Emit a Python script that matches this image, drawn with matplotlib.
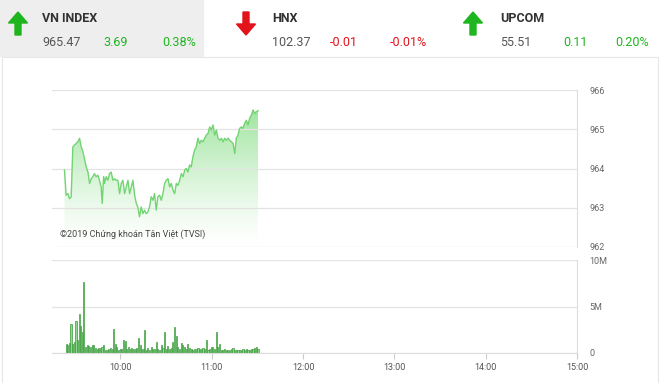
import numpy as np
import matplotlib.pyplot as plt
from matplotlib.patches import Rectangle, FancyArrow, Polygon

plt.rcParams['font.family'] = ['Roboto', 'DejaVu Sans']

# header quotes
names = ['VN INDEX', 'HNX', 'UPCOM']
last = ['965.47', '102.37', '55.51']
chg = ['3.69', '-0.01', '0.11']
pct = ['0.38%', '-0.01%', '0.20%']
up = [True, False, True]

# VN-Index intraday (minutes after 9:00)
px_min = [23.2, 24.3, 25.4, 26.5, 27.6, 28.7, 29.8, 30.9, 32.0, 33.1, 34.2, 35.3, 37.5, 38.6,
          39.7, 40.8, 41.8, 42.9, 44.0, 45.1, 46.2, 47.3, 48.0, 48.9, 49.5, 50.6, 51.7, 52.8,
          53.9, 55.0, 56.1, 57.2, 58.3, 59.4, 60.5, 61.6, 62.7, 63.8, 64.9, 66.0, 67.1, 68.2,
          69.3, 70.4, 71.4, 72.5, 73.6, 74.7, 75.8, 76.9, 78.0, 79.1, 80.2, 81.3, 82.4, 83.5,
          84.6, 85.7, 86.8, 87.9, 89.0, 90.1, 91.2, 92.3, 93.4, 94.5, 95.6, 96.7, 97.8, 98.9,
          100.0, 101.1, 102.2, 103.2, 104.3, 105.4, 106.5, 107.6, 108.7, 109.8, 110.9, 112.0,
          113.1, 114.2, 115.3, 116.4, 117.5, 118.6, 119.7, 120.8, 121.9, 123.0, 124.1, 125.2,
          126.3, 127.4, 128.5, 129.6, 130.7, 131.8, 132.9, 134.0, 135.1, 136.1, 137.2, 138.3,
          139.4, 140.5, 141.6, 142.7, 143.8, 144.9, 146.0, 147.1, 148.2, 149.3, 150.4]
price = [963.96, 963.32, 963.36, 963.23, 963.28, 964.55, 964.60, 964.64, 964.68, 964.77,
         964.55, 964.43, 964.04, 963.91, 963.62, 963.74, 963.79, 963.87, 963.79, 963.83,
         963.70, 963.53, 963.11, 963.79, 963.62, 963.79, 963.70, 963.87, 963.91, 963.70,
         963.74, 963.70, 963.70, 963.36, 963.62, 963.70, 963.36, 963.53, 963.70, 963.36,
         963.53, 963.70, 963.32, 963.11, 963.02, 962.77, 963.02, 962.85, 962.94, 962.85,
         962.89, 963.02, 963.28, 963.19, 963.36, 962.94, 963.28, 963.32, 963.19, 963.36,
         963.62, 963.70, 963.74, 963.53, 963.62, 963.45, 963.36, 963.62, 963.57, 963.70,
         963.87, 963.79, 963.96, 964.00, 963.91, 964.09, 964.04, 964.30, 964.47, 964.55,
         964.77, 964.64, 964.72, 964.68, 964.77, 964.85, 964.89, 965.06, 964.98, 965.11,
         964.85, 964.98, 964.77, 964.72, 964.77, 964.68, 964.77, 964.72, 964.77, 964.72,
         964.68, 964.64, 964.38, 964.77, 964.85, 965.02, 965.06, 965.02, 965.15, 965.23,
         965.11, 965.28, 965.36, 965.49, 965.40, 965.45, 965.47]

# volume (millions)
vol_min = [24.3, 25.4, 26.5, 27.5, 28.6, 29.7, 30.8, 31.9, 33.0, 33.7, 34.8, 35.9, 37.0, 38.1,
           39.2, 40.3, 41.4, 42.5, 43.6, 44.7, 45.7, 46.8, 47.9, 49.0, 50.1, 51.2, 52.3, 53.4,
           54.5, 55.4, 56.5, 57.6, 58.7, 59.8, 60.9, 62.0, 63.1, 64.2, 65.3, 66.4, 67.5, 68.5,
           69.6, 70.7, 72.1, 72.9, 74.0, 75.1, 76.0, 76.9, 78.0, 79.1, 80.2, 81.3, 82.4, 83.5,
           84.6, 85.7, 86.8, 87.9, 89.0, 90.0, 91.1, 92.2, 93.3, 94.4, 95.5, 96.6, 97.7, 98.8,
           99.9, 101.0, 102.1, 103.2, 104.3, 105.4, 106.5, 107.6, 108.7, 109.8, 110.9, 112.0,
           113.1, 114.2, 115.3, 116.8, 117.5, 118.6, 119.7, 120.7, 121.8, 122.9, 124.0, 125.1,
           126.2, 127.3, 128.4, 129.5, 130.6, 131.7, 132.8, 133.9, 135.0, 136.1, 137.2, 138.3,
           139.4, 140.5, 141.6, 142.7, 143.8, 144.9, 146.0, 147.1, 148.2, 149.3, 150.4]
vol = [1.0, 0.81, 1.07, 3.15, 1.0, 1.19, 3.41, 1.37, 4.15, 2.85, 2.3, 7.67, 0.63, 0.81,
       0.70, 0.63, 0.89, 0.81, 0.56, 0.44, 0.52, 0.52, 0.63, 0.89, 0.33, 0.37, 0.41, 0.56,
       0.44, 2.63, 1.0, 0.63, 0.33, 0.41, 0.44, 1.37, 1.30, 0.44, 0.63, 0.48, 0.56, 0.48,
       0.44, 0.56, 1.56, 0.81, 0.41, 0.48, 2.48, 0.37, 0.56, 0.33, 0.63, 0.48, 0.41, 1.19,
       0.44, 0.37, 0.81, 0.56, 2.22, 0.44, 0.70, 0.41, 0.52, 1.19, 2.78, 1.81, 0.63, 0.48,
       1.07, 0.85, 0.63, 0.41, 1.0, 0.52, 0.48, 0.37, 0.41, 0.44, 0.52, 0.41, 0.48, 0.56,
       0.41, 1.44, 0.33, 0.44, 0.63, 0.63, 0.41, 2.22, 0.63, 0.93, 0.37, 0.30, 0.41, 0.33,
       0.37, 0.37, 0.48, 0.52, 0.33, 0.30, 0.37, 0.33, 0.37, 0.41, 0.33, 0.48, 0.30, 0.33,
       0.41, 0.48, 0.56, 0.63, 0.41]

xticks = [60, 120, 180, 240, 300, 360]
xlabels = ['10:00', '11:00', '12:00', '13:00', '14:00', '15:00']
ptick = [962, 963, 964, 965, 966]
vtick = [0, 5, 10]
vlabels = ['0', '5M', '10M']

GREEN = '#1fb51f'
RED = '#e3131b'

fig = plt.figure(figsize=(6.6, 3.83), dpi=100)

# background / header in pixel coords
bg = fig.add_axes([0, 0, 1, 1])
bg.set_xlim(0, 660)
bg.set_ylim(383, 0)
bg.axis('off')
bg.add_patch(Rectangle((0, 0), 203, 56, color='#eeeeee'))
bg.add_patch(Rectangle((2, 57), 656, 330, fill=False, ec='#e6e6e6', lw=0.8))

arrow_x = [18, 246, 473]
text_x = [42, 272, 500]
chg_x = [103, 330, 563]
pct_x = [162, 390, 615]
for i in range(3):
    col = GREEN if up[i] else RED
    if up[i]:
        bg.add_patch(FancyArrow(arrow_x[i], 35, 0, -23, width=6, head_width=19, head_length=11,
                                length_includes_head=True, color=col))
    else:
        bg.add_patch(FancyArrow(arrow_x[i], 12, 0, 23, width=6, head_width=19, head_length=11,
                                length_includes_head=True, color=col))
    bg.text(text_x[i], 18, names[i], fontsize=9, fontweight='bold', color='#333333', va='center')
    bg.text(text_x[i], 42, last[i], fontsize=9, color='#555555', va='center')
    bg.text(chg_x[i], 42, chg[i], fontsize=9, color=col, va='center')
    bg.text(pct_x[i], 42, pct[i], fontsize=9, color=col, va='center')

# price chart
ax1 = fig.add_axes([52 / 660, 1 - 247 / 383, 525 / 660, 157 / 383])
ax1.set_facecolor('none')
ax1.set_xlim(15, 360)
ax1.set_ylim(962, 966)
x = np.array(px_min)
y = np.array(price)

# gradient fill under the line
grad = np.zeros((200, 2, 4))
top = np.array([0.45, 0.85, 0.45])
t = np.linspace(1, 0, 200)[:, None]
grad[:, :, :3] = top
grad[:, :, 3] = 0.8 * t ** 1.3
im = ax1.imshow(grad, extent=[x[0], x[-1], 962, 966], aspect='auto', origin='upper', zorder=1)
poly = Polygon(np.column_stack([np.r_[x[0], x, x[-1]], np.r_[962, y, 962]]), closed=True,
               facecolor='none', edgecolor='none')
ax1.add_patch(poly)
im.set_clip_path(poly)
ax1.plot(x, y, color='#72d472', lw=1, zorder=2)

ax1.set_yticks(ptick)
ax1.set_yticklabels([str(v) for v in ptick])
ax1.yaxis.tick_right()
ax1.tick_params(axis='y', length=0, pad=9, labelsize=6.5, labelcolor='#666666')
ax1.set_xticks([])
ax1.grid(axis='y', color='#e3e3e3', lw=0.9)
for s in ['left', 'top', 'bottom']:
    ax1.spines[s].set_visible(False)
ax1.spines['right'].set_color('#dddddd')
ax1.text(0.016, 0.05, '©2019 Chứng khoán Tân Việt (TVSI)', transform=ax1.transAxes,
         fontsize=6.5, color='#444444', va='bottom', zorder=3)

# volume chart
ax2 = fig.add_axes([52 / 660, 1 - 353 / 383, 525 / 660, 93 / 383])
ax2.set_facecolor('none')
ax2.set_xlim(15, 360)
ax2.set_ylim(0, 10)
ax2.bar(vol_min, vol, width=0.75, color='#8fd88f', edgecolor='#3a9a3a', lw=0.5, zorder=2)
ax2.set_yticks(vtick)
ax2.set_yticklabels(vlabels)
ax2.yaxis.tick_right()
ax2.tick_params(axis='y', length=0, pad=9, labelsize=6.5, labelcolor='#666666')
ax2.set_xticks(xticks)
ax2.set_xticklabels(xlabels)
ax2.tick_params(axis='x', length=4, color='#cccccc', labelsize=6.5, labelcolor='#555555', pad=3)
ax2.grid(axis='y', color='#e3e3e3', lw=0.9)
for s in ['left', 'top']:
    ax2.spines[s].set_visible(False)
ax2.spines['right'].set_color('#dddddd')
ax2.spines['bottom'].set_color('#dddddd')

fig.savefig('out.png', dpi=100)
